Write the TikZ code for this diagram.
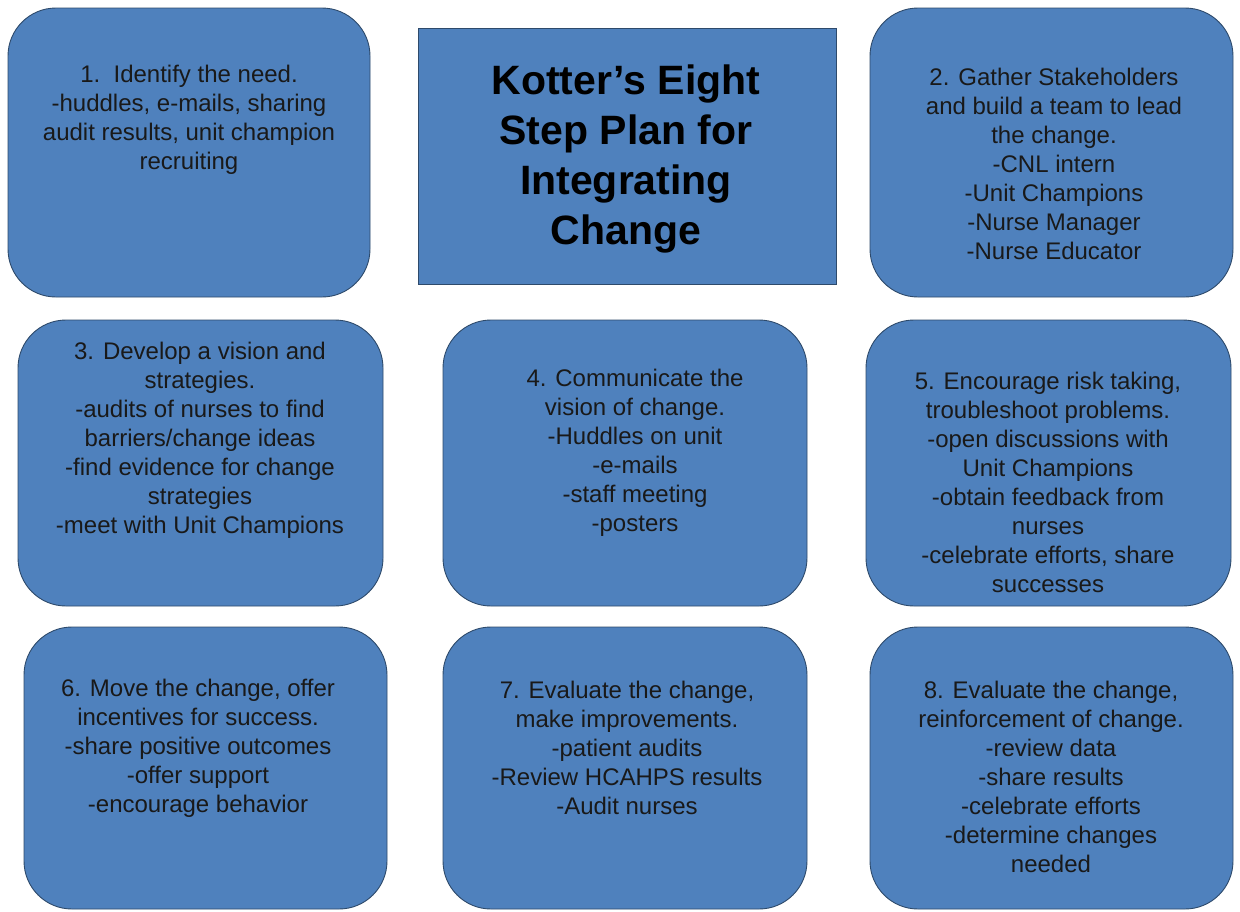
\documentclass[tikz,border=0pt]{standalone}
\usepackage{fontspec}
\setmainfont{Liberation Sans}
\definecolor{boxblue}{HTML}{4F81BD}
\definecolor{boxline}{HTML}{2E4A6B}
\begin{document}
\begin{tikzpicture}[x=1pt,y=-1pt,
  stepbox/.style={draw=boxline,fill=boxblue,line width=0.9pt,rounded corners=48pt},
  steptext/.style={align=center,inner sep=0pt,font=\fontsize{24}{29}\selectfont,text=black!90},
  titletext/.style={align=center,inner sep=0pt,font=\fontsize{41}{50}\selectfont\bfseries}]
\useasboundingbox (0,0) rectangle (1240,911);
\fill[white] (0,0) rectangle (1240,911);
% boxes
\draw[stepbox] (8,8) rectangle (370,297);
\draw[draw=boxline,fill=boxblue,line width=0.9pt] (418,28) rectangle (836,284);
\draw[stepbox] (870,8) rectangle (1233,297);
\draw[stepbox] (18,320) rectangle (383,606);
\draw[stepbox] (443,320) rectangle (807,606);
\draw[stepbox] (866,320) rectangle (1231,606);
\draw[stepbox] (24,627) rectangle (387,909);
\draw[stepbox] (443,627) rectangle (807,909);
\draw[stepbox] (870,627) rectangle (1233,909);
% texts
\node[steptext] (s1) at (189,120) {1.\ \ Identify the need.\\-huddles, e-mails, sharing\\audit results, unit champion\\recruiting};
\node[titletext] (title) at (626,159) {Kotter’s Eight\\Step Plan for\\Integrating\\Change};
\node[steptext] (s2) at (1054,164) {2. Gather Stakeholders\\and build a team to lead\\the change.\\-CNL intern\\-Unit Champions\\-Nurse Manager\\-Nurse Educator};
\node[steptext] (s3) at (200,440) {3. Develop a vision and\\strategies.\\-audits of nurses to find\\barriers/change ideas\\-find evidence for change\\strategies\\-meet with Unit Champions};
\node[steptext] (s4) at (635,453) {4. Communicate the\\vision of change.\\-Huddles on unit\\-e-mails\\-staff meeting\\-posters};
\node[steptext] (s5) at (1048,482) {5. Encourage risk taking,\\troubleshoot problems.\\-open discussions with\\Unit Champions\\-obtain feedback from\\nurses\\-celebrate efforts, share\\successes};
\node[steptext] (s6) at (198,748) {6. Move the change, offer\\incentives for success.\\-share positive outcomes\\-offer support\\-encourage behavior};
\node[steptext] (s7) at (627,748) {7. Evaluate the change,\\make improvements.\\-patient audits\\-Review HCAHPS results\\-Audit nurses};
\node[steptext] (s8) at (1051,777) {8. Evaluate the change,\\reinforcement of change.\\-review data\\-share results\\-celebrate efforts\\-determine changes\\needed};
\end{tikzpicture}
\end{document}
